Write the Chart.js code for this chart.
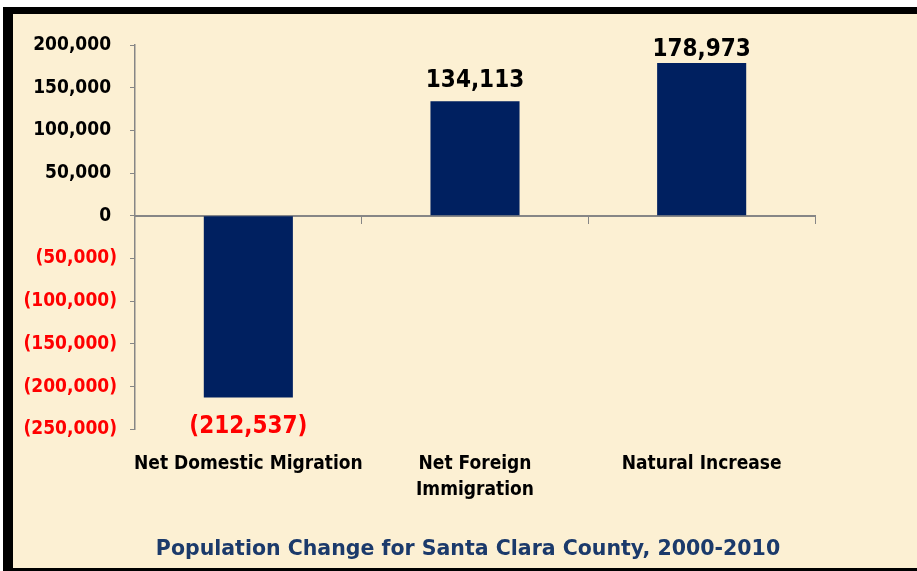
<!DOCTYPE html>
<html>
<head>
<meta charset="utf-8">
<script src="https://cdn.jsdelivr.net/npm/chart.js@4.4.1/dist/chart.umd.min.js"></script>
<style>
    html, body { margin: 0; padding: 0; background: #ffffff; }
    #frame {
        position: absolute; left: 3px; top: 7px;
        width: 904px; height: 554px;
        border-left: 10px solid #000; border-top: 7px solid #000; border-bottom: 3px solid #000;
        background: #FCF0D3;
    }
    #chart { display: block; }
</style>
</head>
<body>
<div id="frame"><canvas id="chart" width="904" height="554"></canvas></div>
<script>
// Datos
const categories = ['Net Domestic Migration', ['Net Foreign', 'Immigration'], 'Natural Increase'];
const changeValues = [-212537, 134113, 178973];
const yMin = -250000;
const yMax = 200000;
const yStep = 50000;
const chartTitle = 'Population Change for Santa Clara County, 2000-2010';

const FONT = '"DejaVu Sans Condensed", "DejaVu Sans", sans-serif';
const GREY = '#868686';

const fmt = (v) => Math.abs(v).toLocaleString('en-US');
const fmtParen = (v) => v < 0 ? '(' + fmt(v) + ')' : fmt(v);

// etiquetas de valor encima / debajo de cada barra
const valueLabels = {
    id: 'valueLabels',
    afterDatasetsDraw(chart) {
        const ctx = chart.ctx;
        const meta = chart.getDatasetMeta(0);
        const top = chart.chartArea.top;
        ctx.save();
        ctx.font = 'bold 24px ' + FONT;
        ctx.textAlign = 'center';
        ctx.textBaseline = 'alphabetic';
        meta.data.forEach((bar, i) => {
            const v = changeValues[i];
            if (v < 0) {
                ctx.fillStyle = '#FF0000';
                ctx.fillText(fmtParen(v), bar.x, bar.y + 36);
            } else {
                // si no cabe encima, la etiqueta baja hasta el borde superior
                ctx.fillStyle = '#000000';
                ctx.fillText(fmtParen(v), bar.x, Math.max(bar.y - 14, top + 11));
            }
        });
        ctx.restore();
    }
};

new Chart(document.getElementById('chart'), {
    type: 'bar',
    data: {
        labels: categories,
        datasets: [{
            data: changeValues,
            backgroundColor: '#002060',
            borderWidth: 0,
            categoryPercentage: 1,
            barPercentage: 0.393
        }]
    },
    options: {
        responsive: false,
        animation: false,
        layout: { padding: { left: 6, right: 0, top: 31, bottom: 0 } },
        plugins: {
            legend: { display: false },
            tooltip: { enabled: false },
            title: {
                display: true,
                position: 'bottom',
                text: chartTitle,
                color: '#1B3A6B',
                font: { family: '"DejaVu Sans", sans-serif', size: 20.5, weight: 'bold' },
                padding: { top: 32, bottom: 6 }
            }
        },
        scales: {
            x: {
                afterFit: (scale) => { scale.height = 76; },
                grid: { display: false, drawTicks: false },
                border: { display: false },
                ticks: {
                    color: '#000000',
                    padding: 22,
                    maxRotation: 0,
                    autoSkip: false,
                    font: { family: FONT, size: 19, weight: 'bold', lineHeight: 1.37 }
                }
            },
            x2: {
                type: 'category',
                position: { y: 0 },
                afterFit: (scale) => { scale.height = 0; },
                ticks: { display: false },
                grid: { display: true, offset: true, drawOnChartArea: false, tickLength: 7, color: GREY, lineWidth: 1 },
                border: { color: GREY, width: 2 }
            },
            y: {
                min: yMin,
                max: yMax,
                afterFit: (scale) => { scale.width = 116; },
                ticks: {
                    stepSize: yStep,
                    padding: 13,
                    color: (c) => (c.tick && c.tick.value < 0) ? '#FF0000' : '#000000',
                    font: { family: FONT, size: 19, weight: 'bold' },
                    callback: (v) => v < 0 ? fmtParen(v) : fmt(v) + ' '
                },
                grid: { display: true, drawOnChartArea: false, tickLength: 5, color: GREY },
                border: { color: GREY, width: 1.5 }
            },
            // eje vacío a la derecha solo para reservar el margen
            yRight: {
                position: 'right',
                afterFit: (scale) => { scale.width = 102; },
                ticks: { display: false },
                grid: { display: false },
                border: { display: false }
            }
        }
    },
    plugins: [valueLabels]
});
</script>
</body>
</html>
